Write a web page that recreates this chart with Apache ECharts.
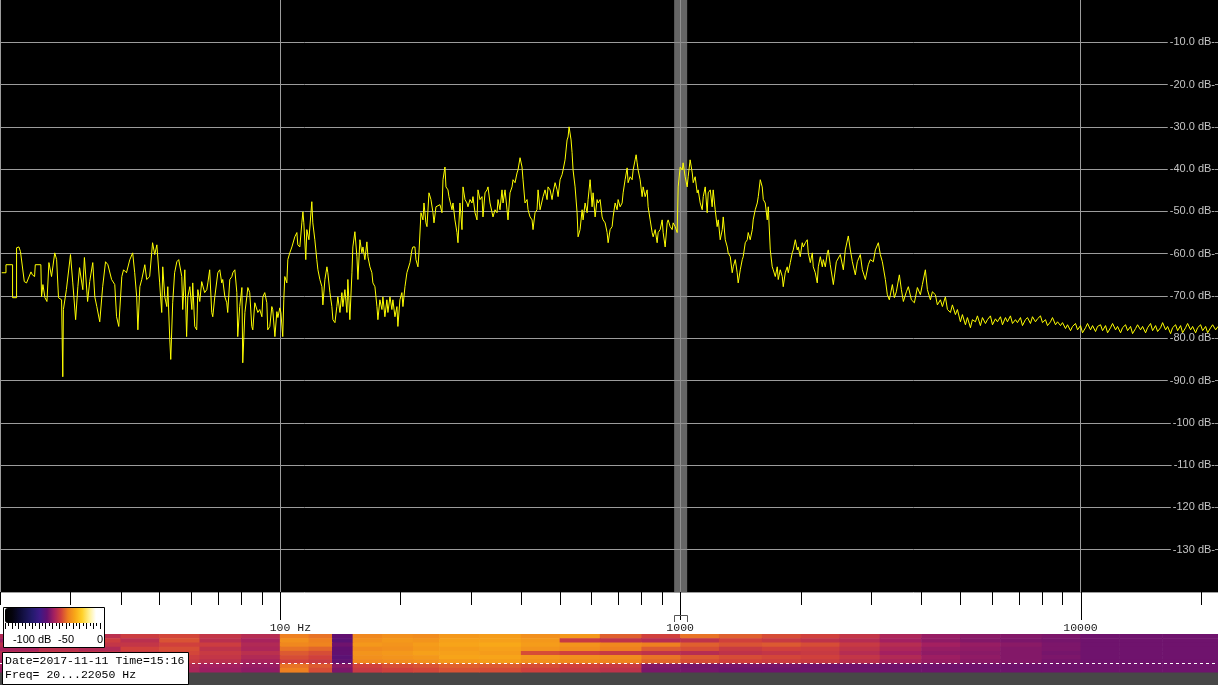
<!DOCTYPE html>
<html><head><meta charset="utf-8">
<script src="https://cdn.jsdelivr.net/npm/echarts@6/dist/echarts.min.js"></script>
<style>html,body{margin:0;padding:0;background:#fff}#c{width:1218px;height:685px}</style>
</head><body><div id="c"></div>
<script>
// ---- spectrum trace, [frequency Hz, level dB] ----
const seg20Hz = [[20.2,-64.5],[20.7,-64.5],[20.7,-62.6],[21.5,-62.6],[21.5,-70.4],[22.0,-70.4],[22.0,-58.6],[22.3,-58.4],[22.5,-59.5],[23.0,-66.6],[23.3,-66.9],[23.9,-64.3],[24.1,-65.0],[24.4,-65.4],[24.5,-62.6],[25.3,-62.6],[25.4,-70.2],[25.6,-67.3],[25.9,-70.4],[26.2,-71.3],[26.5,-62.1],[26.9,-65.4],[27.4,-59.8],[27.7,-61.4],[28.0,-70.4],[28.5,-70.9],[28.7,-89.1],[28.8,-73.2],[29.3,-68.5],[30.0,-60.2],[30.4,-66.9],[30.9,-75.6],[31.3,-67.8],[31.6,-63.3],[32.2,-68.5],[32.5,-60.9],[33.1,-71.3],[33.5,-66.6],[34.1,-62.1],[34.5,-70.2],[34.9,-72.5],[35.5,-76.1],[36.1,-67.8],[36.7,-61.9],[37.2,-62.6],[38.0,-66.1],[38.7,-67.3],[39.1,-74.9],[39.6,-77.2],[40.3,-65.4],[40.7,-63.8],[41.4,-64.5],[42.2,-61.4],[42.9,-59.8],[43.4,-64.5],[43.9,-70.2],[44.2,-78.0],[44.7,-67.8],[45.2,-66.1],[46.0,-62.6],[46.5,-66.1],[47.3,-65.4]];
const seg48Hz = [[48.1,-57.4],[48.7,-60.2],[49.3,-57.9],[50.1,-66.9],[50.7,-73.9],[51.0,-63.1],[51.6,-70.2],[52.2,-72.5],[52.5,-67.8],[53.1,-80.3],[53.4,-85.0],[54.0,-71.6],[54.6,-64.5],[55.3,-61.9],[55.9,-61.4],[56.9,-65.4],[57.2,-73.2],[57.9,-63.8],[58.5,-79.6],[58.9,-70.2],[59.6,-67.8],[60.3,-73.2],[60.6,-66.9],[61.3,-77.2],[62.0,-78.0],[62.4,-68.5],[63.1,-71.3],[63.8,-66.6],[64.9,-69.2],[65.7,-68.5],[66.1,-66.9],[66.8,-63.8],[67.6,-73.9],[68.0,-74.9],[68.8,-70.2],[70.0,-64.5],[70.8,-63.8],[71.6,-66.9],[72.0,-66.1],[72.9,-70.2],[73.7,-71.6],[74.1,-73.9],[75.0,-66.1],[75.9,-65.4],[76.3,-64.5],[77.2,-63.8],[78.1,-69.2],[78.5,-79.6],[79.4,-72.5],[80.4,-68.0],[80.8,-85.8],[81.8,-73.9],[82.7,-70.2],[83.2,-68.0],[84.1,-69.2],[85.1,-77.2],[85.6,-78.0],[86.6,-71.6],[87.6,-71.3],[88.1,-73.9],[89.1,-73.2],[90.2,-74.9],[90.7,-70.2],[91.7,-69.2],[92.8,-71.6],[93.3,-78.0],[94.4,-77.2],[95.5,-72.5],[96.0,-73.2],[97.2,-79.6],[98.3,-73.7],[98.9,-75.1],[100,-72.8]];
const seg100Hz = [[100.6,-73.9],[101.7,-79.6],[102.3,-70.9],[102.9,-65.4],[104.1,-66.9],[104.7,-61.4],[105.9,-59.8],[107.2,-58.4],[109.0,-56.0],[110.3,-55.0],[110.9,-57.9],[112.2,-58.4],[113.5,-52.7],[114.2,-50.1],[114.8,-52.7],[116.1,-61.4],[116.8,-54.3],[118.2,-56.7],[120.2,-47.7],[120.9,-52.7],[122.3,-56.7],[123.7,-61.4],[124.5,-63.8],[125.9,-66.1],[127.4,-67.8],[128.1,-72.1],[129.6,-66.1],[131.1,-63.1],[131.8,-64.5],[133.4,-69.2],[134.9,-72.5],[135.7,-75.6],[137.3,-76.3],[138.8,-72.5],[139.6,-70.2],[141.3,-73.9],[142.9,-69.2],[143.7,-72.5],[145.4,-68.5],[147.1,-73.9],[147.9,-66.1],[149.6,-75.6],[151.4,-64.5],[152.2,-58.4],[154.0,-54.8],[155.8,-60.7],[156.7,-66.1],[158.5,-56.7],[160.3,-59.8],[161.3,-58.4],[163.1,-61.4],[165.0,-57.2],[166.0,-60.7],[167.9,-63.1],[169.8,-64.5],[170.8,-66.9],[172.8,-67.8],[174.8,-72.5],[175.8,-75.6],[177.8,-70.9],[179.9,-73.2],[180.9,-70.2],[183.0,-74.9],[185.1,-70.9],[186.2,-73.9],[188.4,-70.2],[190.5,-73.2],[191.6,-70.9],[193.9,-74.9],[196.1,-72.5],[197.2,-77.2],[199.5,-70.9],[201.8,-69.2],[203.0,-72.5],[205.4,-67.8],[207.7,-64.5],[211.4,-62.1],[213.8,-59.1],[215.0,-58.4],[217.5,-58.4],[218.8,-61.4],[221.3,-63.1],[222.6,-59.8],[225.2,-50.3],[227.8,-52.0],[229.1,-48.0],[231.7,-52.7],[233.1,-53.6],[235.8,-45.6],[238.5,-47.2],[241.3,-50.3],[242.7,-52.7],[245.5,-48.9],[248.3,-49.1],[251.2,-48.4],[254.1,-50.3],[255.6,-42.5],[258.5,-39.5],[260.0,-44.2],[263.0,-44.9],[264.5,-46.5],[269.2,-49.6],[270.7,-48.0],[273.8,-52.0],[277.0,-55.0],[278.6,-57.4],[281.8,-48.0],[285.1,-54.3],[286.8,-44.2],[290.1,-47.2],[293.4,-48.0],[295.1,-48.9],[298.5,-47.2],[302.0,-48.0],[303.7,-46.5],[307.3,-50.3],[310.8,-52.0],[312.6,-44.9],[316.2,-47.2],[319.9,-46.5],[321.7,-51.3],[325.5,-45.6],[329.2,-44.9],[331.1,-44.2],[335.0,-48.0],[338.8,-48.4],[340.8,-51.3],[344.8,-49.6],[348.7,-50.3],[350.8,-47.2],[354.8,-49.6],[358.9,-44.9],[361.0,-48.0],[365.2,-44.9],[369.4,-49.6],[371.5,-52.0],[375.8,-45.6],[380.2,-44.2],[382.4,-42.5],[386.8,-43.2],[391.3,-40.9],[393.5,-40.2],[398.1,-37.3],[402.7,-39.5],[405.0,-42.5],[409.7,-48.0],[414.5,-47.2],[416.9,-49.6],[421.7,-51.3],[426.6,-52.0],[429.0,-54.3],[434.0,-50.3],[439.0,-49.6],[441.6,-44.9],[446.7,-49.6]];
const seg450Hz = [[454.5,-46.5],[459.7,-44.9],[465.1,-47.2],[467.7,-44.2],[473.2,-44.9],[478.6,-47.2],[481.4,-45.6],[487.0,-43.2],[492.6,-44.9],[495.5,-46.5],[501.2,-42.5],[507.0,-41.3],[509.9,-40.2],[515.8,-37.8],[521.8,-33.1],[524.8,-32.4],[527.8,-30.0],[533.9,-33.1],[537.0,-36.1],[540.1,-40.2],[546.4,-44.2],[552.7,-50.3],[555.9,-56.0],[562.3,-54.3],[568.9,-49.6],[572.1,-52.0],[578.8,-48.0],[585.5,-50.3],[588.8,-47.2],[595.7,-42.5],[602.6,-48.9],[606.0,-45.6],[613.1,-51.3],[620.2,-47.2],[623.7,-48.0],[631.0,-47.2],[638.3,-51.3],[642.0,-52.0],[649.4,-52.7],[656.9,-55.0],[660.7,-57.4],[668.3,-54.3],[676.1,-53.6],[680.0,-51.3],[687.9,-48.0],[695.8,-49.6],[699.8,-47.2],[708.0,-48.9],[716.2,-48.0],[720.3,-45.6],[728.6,-42.5],[737.1,-39.7],[741.3,-43.2],[749.9,-41.8],[758.6,-42.5],[763.0,-40.2],[771.8,-37.8],[776.2,-36.6],[780.7,-38.5],[785.2,-40.2],[794.3,-42.5],[803.5,-46.5],[808.2,-44.2],[817.5,-46.5],[827.0,-44.9],[831.8,-48.9],[841.4,-52.0],[851.1,-55.0],[856.1,-56.0],[866.0,-54.3],[876.0,-57.4],[881.0,-55.0],[891.3,-54.3],[901.6,-52.0],[906.8,-55.0],[917.3,-58.4],[927.9,-52.7],[933.2,-52.0],[944.1,-53.6],[955.0,-54.3],[960.5,-52.7],[971.6,-53.6],[982.9,-55.0],[988.6,-44.2],[1000,-39.5]];
const seg1kHz = [[1012,-40.2],[1017,-38.5],[1029,-41.8],[1041,-44.2],[1047,-41.8],[1059,-37.8],[1072,-40.9],[1078,-43.2],[1090,-41.8],[1103,-45.6],[1109,-44.9],[1122,-48.0],[1135,-49.6],[1142,-46.5],[1155,-44.2],[1168,-50.3],[1175,-45.6],[1189,-44.9],[1202,-48.9],[1209,-44.9],[1223,-49.6],[1237,-53.6],[1245,-52.0],[1259,-56.7],[1274,-54.3],[1281,-51.3],[1296,-56.7],[1311,-58.4],[1318,-59.8],[1334,-60.7],[1349,-64.5],[1357,-63.1],[1373,-61.4],[1388,-64.5],[1396,-66.9],[1413,-63.8],[1429,-61.4],[1437,-60.7],[1454,-57.4],[1471,-56.7],[1479,-55.0],[1496,-56.7],[1514,-54.3],[1522,-52.0],[1540,-49.6],[1558,-48.0],[1567,-46.5],[1585,-42.5],[1603,-44.2],[1613,-47.2],[1631,-48.0],[1650,-52.0],[1660,-48.9],[1679,-59.1],[1698,-63.1],[1708,-63.8],[1728,-65.4],[1748,-63.1],[1758,-66.1],[1778,-63.8],[1799,-65.4],[1809,-67.8],[1830,-64.5],[1851,-63.1],[1862,-64.5],[1884,-62.1],[1905,-59.8],[1916,-59.1],[1939,-56.7],[1961,-59.1],[1972,-58.4],[1995,-60.7],[2018,-57.4],[2030,-58.4],[2054,-57.4],[2077,-56.7],[2089,-59.8],[2114,-62.1],[2138,-59.8],[2150,-63.1],[2175,-64.5],[2200,-66.9],[2213,-63.1],[2239,-60.7],[2265,-63.1],[2278,-61.4],[2304,-63.1],[2331,-59.8],[2344,-59.1]];
const seg2k4Hz = [[2371,-62.6],[2413,-67.3],[2455,-61.9],[2512,-60.2],[2556,-63.8],[2585,-59.1],[2630,-55.8],[2661,-59.1],[2692,-61.9],[2738,-65.0],[2770,-61.9],[2818,-60.2],[2851,-63.8],[2901,-66.1],[2951,-62.6],[2985,-61.4],[3037,-61.9],[3073,-59.1],[3126,-57.4],[3162,-60.2],[3199,-61.9],[3255,-66.1],[3292,-69.7],[3330,-70.9],[3389,-67.3],[3428,-70.4],[3467,-69.0],[3528,-65.0],[3569,-68.5],[3610,-71.3],[3673,-69.0],[3715,-67.8],[3780,-70.9],[3846,-71.6],[3913,-68.0],[3981,-69.7],[4027,-67.3],[4097,-63.8],[4145,-68.5],[4217,-70.9],[4266,-69.0],[4340,-69.7],[4390,-72.1],[4467,-70.9],[4519,-72.5],[4597,-70.2],[4651,-73.2],[4732,-73.9],[4786,-72.1],[4870,-74.4],[4926,-73.2]];
const seg5kHz = [[5012,-76.1],[5070,-74.4],[5158,-76.8],[5218,-75.1],[5309,-77.5],[5370,-75.6],[5464,-76.1],[5527,-74.7],[5623,-77.0],[5689,-75.1],[5788,-76.5],[5855,-75.6],[5957,-74.7],[6026,-76.8],[6131,-75.4],[6202,-76.1],[6310,-74.9],[6383,-76.8],[6494,-75.1],[6569,-76.1],[6683,-74.7],[6761,-76.5],[6879,-75.6],[6958,-76.3],[7079,-75.1],[7161,-77.0],[7286,-75.6],[7371,-75.1],[7499,-76.5],[7586,-74.9],[7718,-76.1],[7807,-75.4],[7943,-74.7],[8035,-76.3],[8175,-75.6],[8270,-77.0],[8414,-76.1],[8511,-75.1],[8660,-76.8],[8760,-76.1],[8913,-77.0],[9016,-76.3],[9173,-77.7],[9279,-76.8],[9441,-78.2],[9550,-77.2],[9716,-76.5],[9829,-78.0]];
const seg10kHz = [[10000,-77.0],[10116,-78.7],[10292,-77.5],[10411,-76.5],[10593,-78.0],[10716,-77.0],[10902,-78.4],[11028,-77.2],[11220,-76.8],[11350,-78.2],[11548,-77.0],[11682,-78.7],[11885,-77.5],[12023,-76.5],[12232,-78.0],[12374,-77.2],[12589,-78.7],[12735,-77.5],[12957,-76.8],[13107,-78.2],[13335,-77.2],[13489,-78.9],[13725,-77.7],[13884,-76.8],[14125,-78.0],[14289,-77.2],[14538,-78.7],[14706,-77.5],[14962,-76.5],[15135,-78.2],[15399,-77.0],[15577,-78.4],[15849,-77.5],[16033,-76.3],[16312,-78.0],[16501,-77.2],[16788,-78.9],[16982,-77.5],[17278,-76.8],[17478,-78.2],[17783,-77.0],[17989,-78.7],[18302,-77.5],[18514,-76.5],[18836,-78.0],[19054,-77.2],[19387,-78.7],[19611,-77.5],[19953,-76.8],[20184,-78.2],[20535,-77.2],[20773,-78.7],[21135,-77.5],[21380,-76.8],[21752,-78.0],[22050,-77.2]];

// ---- axis ticks / markers ----
const majorTicksHz = [100, 1000, 10000];
const minorTicksHz = [20,30,40,50,60,70,80,90,200,300,400,500,600,700,800,900,2000,3000,4000,5000,6000,7000,8000,9000,20000];
const cursorBandHz = [966, 1041];

// ---- spectrogram: frequency band edges (Hz) and rows of levels (dB), top row first ----
const bandEdgesHz = [20,25,31.5,40,50,63,80,100,118,135,152,180,215,250,315,400,500,630,800,1000,1250,1600,2000,2500,3150,4000,5000,6300,8000,10000,12500,16000,22050];
const spectroRow0 = [-67,-63,-65,-61,-59,-63,-66,-50,-52,-80,-48,-46,-47,-44,-43,-46,-44,-55,-60,-52,-55,-58,-60,-63,-68,-72,-74,-75,-76,-78,-78,-78];
const spectroRow1 = [-71,-67,-61,-65,-57,-65,-69,-46,-50,-82,-46,-44,-45,-42,-42,-44,-62,-64,-66,-64,-60,-62,-64,-66,-70,-73,-75,-76,-77,-78,-78,-78];
const spectroRow2 = [-65,-69,-63,-63,-60,-61,-67,-48,-49,-78,-44,-45,-43,-41,-40,-43,-45,-48,-50,-55,-57,-56,-58,-62,-66,-70,-72,-74,-76,-78,-78,-78];
const spectroRow3 = [-69,-65,-67,-60,-58,-64,-68,-52,-54,-80,-47,-46,-44,-43,-42,-45,-47,-50,-56,-58,-62,-60,-61,-64,-68,-72,-73,-75,-76,-78,-78,-78];
const spectroRow4 = [-66,-63,-64,-62,-59,-62,-65,-56,-58,-80,-45,-44,-42,-42,-43,-58,-60,-62,-64,-66,-64,-63,-62,-66,-70,-73,-74,-75,-77,-78,-78,-78];
const spectroRow5 = [-68,-66,-65,-63,-61,-63,-67,-58,-60,-82,-46,-45,-44,-41,-41,-44,-46,-47,-52,-56,-58,-59,-60,-63,-67,-71,-73,-75,-76,-78,-78,-78];
const spectroRow6 = [-70,-67,-66,-64,-62,-65,-69,-60,-62,-80,-48,-47,-46,-44,-43,-46,-48,-49,-54,-58,-60,-61,-62,-65,-69,-72,-74,-75,-77,-78,-78,-78];
const spectroRow7 = [-70,-69,-71,-68,-67,-70,-72,-52,-56,-74,-60,-58,-57,-55,-56,-58,-60,-62,-75,-77,-77,-77,-78,-78,-78,-78,-78,-78,-78,-78,-78,-78];
const spectroRow8 = [-72,-70,-70,-69,-68,-71,-73,-50,-58,-76,-62,-60,-59,-57,-58,-60,-62,-64,-76,-77,-78,-78,-78,-78,-78,-78,-78,-78,-78,-78,-78,-78];

const dateText = 'Date=2017-11-11 Time=15:16';
const freqText = 'Freq= 20...22050 Hz';

// ---- build ----
const trace = [].concat(seg20Hz, seg48Hz, seg100Hz, seg450Hz, seg1kHz, seg2k4Hz, seg5kHz, seg10kHz);
const spectroRows = [spectroRow0, spectroRow1, spectroRow2, spectroRow3, spectroRow4, spectroRow5, spectroRow6, spectroRow7, spectroRow8];
const specData = [];
spectroRows.forEach((row, r) => row.forEach((v, b) => specData.push([bandEdgesHz[b], bandEdgesHz[b + 1], r, v])));
const tickData = majorTicksHz.map(f => [f, 1]).concat(minorTicksHz.map(f => [f, 0]));

const colormap = ['#000000','#04030c','#0c0a30','#181450','#261a70','#3e1a86','#621070','#a42060','#d0403c','#ee8020','#f8a818','#ffd028','#fff090','#ffffff','#ffffff'];
const mono = 'Liberation Mono';
const sans = 'Liberation Sans';

const chart = echarts.init(document.getElementById('c'), null, {renderer: 'canvas', width: 1218, height: 685});
chart.setOption({
  animation: false,
  textStyle: {fontFamily: sans},
  grid: [
    {left: 0, top: 0, width: 1218, height: 592, show: true, backgroundColor: '#000', borderWidth: 0, containLabel: false, outerBoundsMode: 'none'},
    {left: 0, top: 634, width: 1218, height: 38, containLabel: false, outerBoundsMode: 'none'},
    {left: 5, top: 622, width: 95, height: 1, containLabel: false, outerBoundsMode: 'none'}
  ],
  xAxis: [
    {type: 'log', logBase: 10, gridIndex: 0, min: 20, max: 22050,
     axisLine: {show: false}, axisTick: {show: false},
     splitLine: {show: true, showMaxLine: false, lineStyle: {color: '#9c9c9c', width: 1}},
     axisLabel: {margin: 30, fontFamily: mono, fontSize: 11.5, color: '#222',
       formatter: function (v) {
         const r = Math.round(v);
         if (r === 100) return '{pad| }{n|100}{n| Hz}';
         if (r === 1000 || r === 10000) return '{n|' + r + '}';
         return '';
       },
       rich: {pad: {width: 21, fontFamily: mono, fontSize: 11.5}, n: {fontFamily: mono, fontSize: 11.5, color: '#222'}}
     }},
    {type: 'log', logBase: 10, gridIndex: 1, min: 20, max: 22050, show: false},
    {type: 'value', gridIndex: 2, min: -140, max: 0, interval: 10, z: 6,
     axisLine: {show: false},
     axisTick: {show: true, length: 6, lineStyle: {color: '#000'}},
     minorTick: {show: true, splitNumber: 2, length: 3, lineStyle: {color: '#000'}},
     splitLine: {show: false},
     axisLabel: {margin: 11, fontSize: 11, fontFamily: sans, color: '#000',
       formatter: function (v) { if (v === -100) return '-100 dB'; if (v === -50) return '-50'; if (v === 0) return '0'; return ''; }}}
  ],
  yAxis: [
    {type: 'value', gridIndex: 0, min: -140, max: 0, interval: 10, position: 'right',
     axisLine: {show: false}, axisTick: {show: false},
     splitLine: {show: true, showMaxLine: false, lineStyle: {color: '#9c9c9c', width: 1}},
     axisLabel: {inside: true, margin: 3, color: '#c4c4c4', fontSize: 11, fontFamily: sans,
       backgroundColor: '#000', padding: [0, 0, 0, 2],
       formatter: function (v) {
         if (v === 0 || v === -140) return '';
         return (v > -100 ? v.toFixed(1) : String(v)) + ' dB-';
       }}},
    {type: 'value', gridIndex: 1, min: 0, max: 9, inverse: true, show: false},
    {type: 'value', gridIndex: 2, show: false}
  ],
  visualMap: {
    type: 'continuous', min: -140, max: 0, seriesIndex: 4, dimension: 3,
    orient: 'horizontal', left: 5, top: 608, itemWidth: 15, itemHeight: 98,
    calculable: false, hoverLink: false, padding: 0, text: null, z: 5,
    inRange: {color: colormap}
  },
  series: [
    {type: 'line', xAxisIndex: 0, yAxisIndex: 0, data: [], z: 1, silent: true,
     markArea: {silent: true, itemStyle: {color: 'rgba(140,140,140,0.72)'},
       data: [[{xAxis: cursorBandHz[0]}, {xAxis: cursorBandHz[1]}]]}},
    {type: 'line', xAxisIndex: 0, yAxisIndex: 0, data: trace, z: 3, showSymbol: false, symbol: 'none',
     lineStyle: {color: '#ffff00', width: 1}, silent: true},
    {type: 'custom', xAxisIndex: 0, yAxisIndex: 0, data: tickData, z: 3, silent: true,
     renderItem: function (params, api) {
       const p = api.coord([api.value(0), -140]);
       const x = Math.round(p[0]) + 0.5;
       const len = api.value(1) ? 28 : 13;
       return {type: 'line', shape: {x1: x, y1: p[1], x2: x, y2: p[1] + len}, style: {stroke: '#000', lineWidth: 1}};
     }},
    {type: 'custom', xAxisIndex: 0, yAxisIndex: 0, data: [cursorBandHz], z: 3, silent: true,
     renderItem: function (params, api) {
       const a = api.coord([api.value(0), -140]);
       const b = api.coord([api.value(1), -140]);
       const xa = Math.round(a[0]) + 0.5, xb = Math.round(b[0]) + 0.5, y = a[1];
       return {type: 'polyline', shape: {points: [[xa, y + 30], [xa, y + 23.5], [xb, y + 23.5], [xb, y + 30]]},
               style: {stroke: '#555', fill: null, lineWidth: 1}};
     }},
    {type: 'custom', xAxisIndex: 1, yAxisIndex: 1, data: specData, encode: {x: [0, 1], y: 2}, z: 2, silent: true,
     renderItem: function (params, api) {
       const p1 = api.coord([api.value(0), api.value(2)]);
       const p2 = api.coord([api.value(1), api.value(2) + 1]);
       return {type: 'rect', shape: {x: p1[0], y: Math.min(p1[1], p2[1]), width: p2[0] - p1[0] + 0.6, height: Math.abs(p2[1] - p1[1]) + 0.6},
               style: {fill: api.visual('color')}};
     },
     markLine: {silent: true, symbol: 'none', label: {show: false},
       lineStyle: {color: '#ffffff', type: [3, 3], width: 1}, data: [{yAxis: 7}]}}
  ],
  graphic: [
    {type: 'rect', z: 1, shape: {x: 0, y: 672, width: 1218, height: 13}, style: {fill: '#474747'}},
    {type: 'rect', z: 3, shape: {x: 3.5, y: 607.5, width: 101, height: 40}, style: {fill: '#fff', stroke: '#000', lineWidth: 1}},
    {type: 'group', z: 10, children: [
      {type: 'rect', z: 10, shape: {x: 2.5, y: 652.5, width: 186, height: 32}, style: {fill: '#fff', stroke: '#000', lineWidth: 1}},
      {type: 'text', z: 11, x: 5, y: 661, style: {text: dateText, font: '11.5px "Liberation Mono"', fill: '#000', textVerticalAlign: 'middle'}},
      {type: 'text', z: 11, x: 5, y: 675, style: {text: freqText, font: '11.5px "Liberation Mono"', fill: '#000', textVerticalAlign: 'middle'}}
    ]}
  ]
});
</script></body></html>
